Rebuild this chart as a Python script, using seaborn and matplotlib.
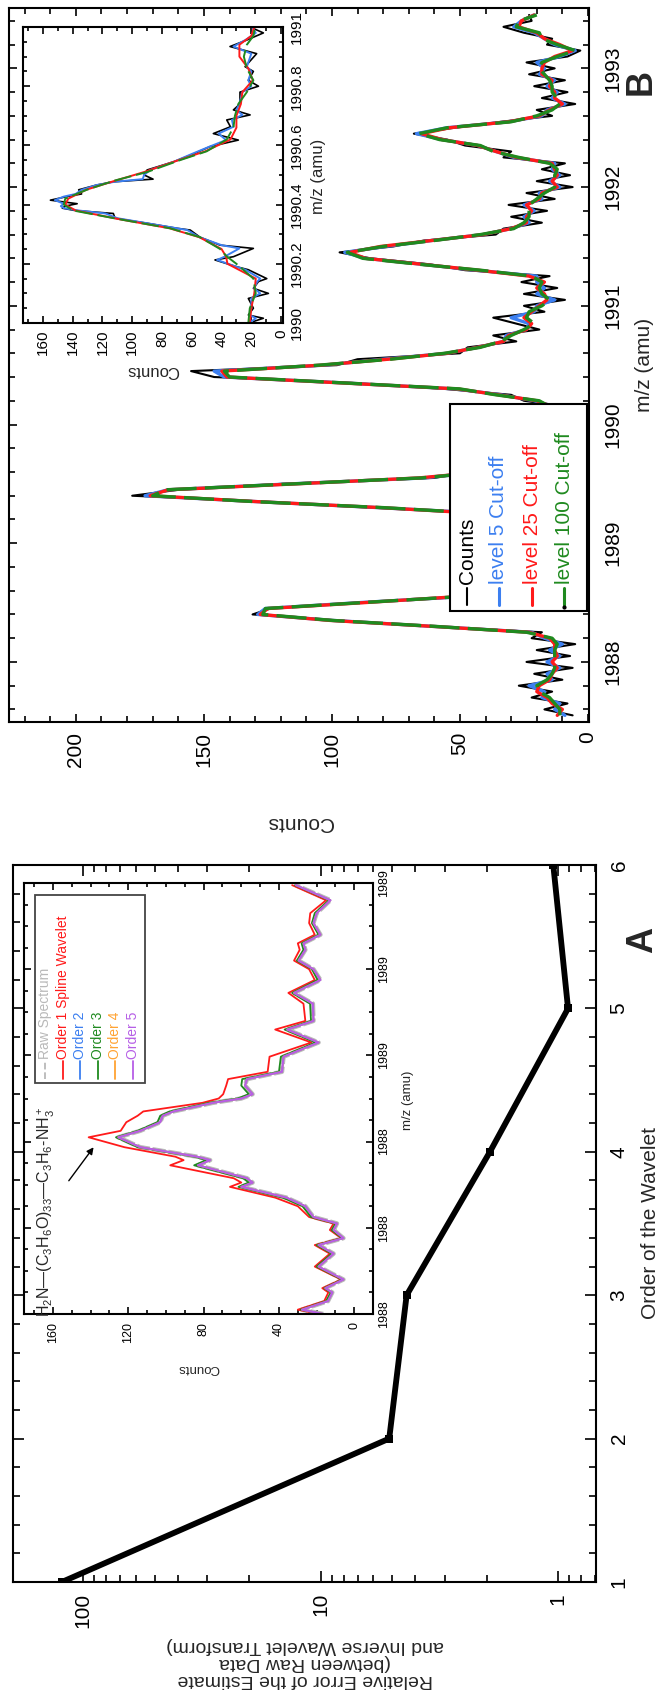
import matplotlib
matplotlib.use("Agg")
import matplotlib.pyplot as plt
import seaborn as sns
from matplotlib.ticker import MultipleLocator, LogLocator, NullFormatter, FixedLocator, FormatStrFormatter
from matplotlib.lines import Line2D
from matplotlib.patches import Rectangle

# ---------------- data ----------------
# Panel A: relative error vs wavelet order
wavelet_order = [1, 2, 3, 4, 5, 6]
relative_error = [123.0, 5.15, 4.35, 1.94, 0.91, 1.05]

# Panel A inset: spectrum around m/z 1988-1989
mz_a = [1988.000, 1988.010, 1988.030, 1988.050, 1988.060, 1988.080, 1988.110, 1988.140, 1988.160, 1988.176,
        1988.195, 1988.210, 1988.225, 1988.250, 1988.270, 1988.295, 1988.305, 1988.315, 1988.345, 1988.357,
        1988.365, 1988.387, 1988.410, 1988.425, 1988.445, 1988.460, 1988.470, 1988.490, 1988.500, 1988.510,
        1988.530, 1988.545, 1988.562, 1988.597, 1988.630, 1988.660, 1988.680, 1988.720, 1988.745, 1988.775,
        1988.800, 1988.820, 1988.845, 1988.860, 1988.880, 1988.907, 1988.930, 1988.960, 1988.995]
order5_counts = [16.5, 27.8, 14, 11.7, 15.4, 5.8, 19, 11, 19, 5.8, 11, 9.2, 21.7, 26, 36, 60, 54, 57, 83, 76.5,
                 83.5, 113.6, 125.3, 113.6, 103, 101.7, 96, 75, 60, 54, 58, 57, 38.4, 37.6, 19, 35.7, 21.7, 22, 32, 18,
                 21.7, 29.6, 26, 27, 18, 21.7, 20, 12.7, 31]
order1_counts = [19, 30, 16, 13.8, 17, 7, 21, 13, 21, 7, 13, 11, 24, 30, 42, 66, 60, 64, 97.7, 90.6,
                 95, 122, 141, 124, 121, 115, 112, 80.6, 72, 69.6, 68, 67, 46, 45, 22.8, 42, 26, 27, 35, 21,
                 24, 32, 29, 30, 21, 24, 23.4, 15, 33]
order3_counts = [17, 28.5, 15, 12.5, 16, 6.5, 20, 12, 20, 6.5, 12, 10, 23, 27.5, 38, 61.5, 56, 59, 85, 78.5,
                 85, 115, 126.5, 115, 104.5, 103, 98, 77, 62, 56, 60, 59.5, 40, 39, 20.5, 37, 23, 23.5, 33, 19.5,
                 22.5, 30.5, 27, 28, 19, 22.5, 21, 13.5, 31.5]
order2_counts = [16.5, 27.8, 14, 11.7, 15.4, 5.8, 19, 11, 19, 5.8, 11, 9.2, 21.7, 26, 36, 60, 54, 57, 83, 76.5,
                 83.5, 113.6, 125.3, 113.6, 103, 101.7, 96, 75, 60, 54, 58, 57, 38.4, 37.6, 19, 35.7, 21.7, 22, 32, 18,
                 21.7, 29.6, 26, 27, 18, 21.7, 20, 12.7, 31]
order4_counts = order2_counts
raw_counts_a = order2_counts

# Panel B: full spectrum
mz_b = [1987.55, 1987.60, 1987.65, 1987.70, 1987.75, 1987.80, 1987.85, 1987.90, 1987.95,
        1988.00, 1988.05, 1988.10, 1988.15, 1988.20, 1988.25, 1988.30, 1988.35, 1988.40, 1988.45,
        1988.50, 1988.55, 1988.60, 1988.65, 1988.70, 1988.75, 1988.80, 1988.85, 1988.90, 1988.95,
        1989.00, 1989.05, 1989.10, 1989.15, 1989.20, 1989.25, 1989.30, 1989.35, 1989.40, 1989.45,
        1989.50, 1989.55, 1989.60, 1989.65, 1989.70, 1989.75, 1989.80, 1989.85, 1989.90, 1989.95,
        1990.00, 1990.05, 1990.10, 1990.15, 1990.20, 1990.25, 1990.30, 1990.35, 1990.40, 1990.45,
        1990.50, 1990.55, 1990.60, 1990.65, 1990.70, 1990.75, 1990.80, 1990.85, 1990.90, 1990.95,
        1991.00, 1991.05, 1991.10, 1991.15, 1991.20, 1991.25, 1991.30, 1991.35, 1991.40, 1991.45,
        1991.50, 1991.55, 1991.60, 1991.65, 1991.70, 1991.75, 1991.80, 1991.85, 1991.90, 1991.95,
        1992.00, 1992.05, 1992.10, 1992.15, 1992.20, 1992.25, 1992.30, 1992.35, 1992.40, 1992.45,
        1992.50, 1992.55, 1992.60, 1992.65, 1992.70, 1992.75, 1992.80, 1992.85, 1992.90, 1992.95,
        1993.00, 1993.05, 1993.10, 1993.15, 1993.20, 1993.25, 1993.30, 1993.35, 1993.40, 1993.45]
counts_raw = [6, 17, 8, 22, 14, 27, 10, 21, 6,
              24, 7, 20, 5, 22, 18, 62, 98, 131, 124,
              90, 46, 40, 24, 31, 16, 33, 18, 30, 11,
              26, 13, 27, 8, 26, 35, 85, 126, 178, 160,
              120, 60, 46, 24, 36, 19, 31, 15, 29, 10,
              24, 11, 25, 8, 25, 30, 56, 92, 146, 155,
              98, 90, 50, 47, 28, 37, 19, 28, 37, 17,
              25, 9, 25, 12, 26, 15, 48, 62, 85, 97,
              76, 64, 36, 33, 18, 30, 16, 31, 13, 24,
              6, 20, 7, 18, 9, 33, 30, 48, 55, 68,
              52, 34, 14, 20, 5, 18, 8, 21, 9, 23,
              13, 24, 8, 3, 16, 14, 25, 33, 22, 23]
counts_lvl5 = [9, 13, 11, 18, 17, 23, 14, 16, 11,
               16, 11, 15, 10, 17, 22, 61, 100, 129, 126,
               89, 49, 37, 28, 26, 21, 27, 23, 24, 16,
               19, 18, 21, 13, 22, 38, 82, 129, 173, 164,
               116, 64, 42, 29, 31, 24, 26, 21, 22, 15,
               18, 16, 19, 13, 21, 34, 52, 95, 142, 146,
               103, 80, 55, 43, 33, 32, 24, 23, 30, 21,
               20, 13, 20, 17, 20, 20, 44, 65, 87, 95,
               79, 61, 41, 30, 23, 25, 21, 25, 18, 19,
               11, 15, 11, 14, 13, 29, 36, 43, 57, 67,
               55, 31, 18, 16, 9, 14, 12, 16, 13, 19,
               17, 20, 11, 5, 13, 17, 21, 29, 26, 21]
counts_lvl25 = [12, 10, 14, 16, 20, 19, 15, 14, 12,
                14, 12, 13, 13, 15, 23, 61, 101, 128, 125,
                87, 51, 35, 29, 25, 22, 26, 24, 21, 19,
                18, 19, 18, 16, 21, 41, 81, 129, 171, 164,
                114, 66, 41, 30, 28, 27, 25, 22, 19, 18,
                17, 17, 18, 14, 20, 35, 51, 96, 141, 143,
                104, 78, 55, 43, 33, 31, 24, 22, 25, 22,
                19, 16, 17, 20, 17, 23, 43, 65, 87, 93,
                81, 61, 41, 30, 24, 24, 22, 24, 19, 18,
                12, 14, 12, 13, 14, 28, 36, 43, 57, 65,
                54, 31, 19, 15, 10, 13, 13, 15, 14, 18,
                18, 17, 13, 6, 11, 17, 20, 27, 26, 21]
counts_lvl100 = [11, 11, 13, 15, 19, 20, 16, 14, 13,
                 13, 13, 13, 12, 14, 24, 60, 100, 127, 126,
                 88, 50, 36, 30, 24, 23, 25, 25, 22, 18,
                 17, 20, 19, 15, 20, 40, 80, 130, 170, 165,
                 115, 65, 40, 31, 29, 26, 24, 23, 20, 17,
                 16, 18, 17, 15, 19, 36, 50, 95, 140, 142,
                 105, 77, 56, 42, 34, 30, 25, 21, 24, 23,
                 18, 15, 18, 19, 18, 22, 42, 66, 88, 94,
                 80, 60, 42, 29, 25, 23, 23, 23, 20, 17,
                 13, 13, 13, 12, 15, 27, 37, 42, 58, 66,
                 55, 30, 20, 14, 11, 12, 14, 14, 15, 17,
                 19, 18, 12, 5, 12, 18, 19, 28, 27, 20]

# Panel B inset: zoom 1990-1991
mz_bz_raw = [1990.005, 1990.016, 1990.027, 1990.050, 1990.083, 1990.100, 1990.117, 1990.140, 1990.150, 1990.180,
             1990.190, 1990.213, 1990.224, 1990.252, 1990.263, 1990.290, 1990.314, 1990.320, 1990.337, 1990.354,
             1990.370, 1990.380, 1990.388, 1990.395, 1990.403, 1990.415, 1990.427, 1990.436, 1990.450, 1990.466,
             1990.477, 1990.486, 1990.500, 1990.517, 1990.545, 1990.571, 1990.596, 1990.618, 1990.640, 1990.663,
             1990.686, 1990.703, 1990.720, 1990.740, 1990.780, 1990.800, 1990.820, 1990.850, 1990.866, 1990.910,
             1990.934, 1990.956, 1990.980, 1990.995]
zoom_raw = [18.6, 11.9, 22, 18.6, 22, 8.5, 18.6, 15.2, 9.6, 22,
            29.8, 44.4, 32, 18.6, 41, 54.5, 61, 70, 90, 111.6,
            112.7, 138.5, 147, 145, 137, 155, 144, 134, 136, 124,
            112.7, 86, 92, 90, 72, 59, 47.7, 28.7, 45.5, 34,
            36.5, 20.8, 32, 27.6, 27.6, 15.2, 22, 18.6, 24.2, 16.4,
            34.3, 23, 11.9, 18.6]
zoom_lvl5 = [20, 17, 21, 20, 20, 14, 18, 16, 14, 24,
             30, 43, 38, 28, 40, 55, 63, 70, 90, 110,
             118, 136, 146, 148, 146, 152, 146, 138, 134, 124,
             112, 93, 92, 88, 72, 60, 48, 37, 42, 32,
             33, 26, 30, 28, 26, 20, 22, 20, 23, 20,
             32, 24, 17, 19]
mz_bz_smooth = [1990.00, 1990.05, 1990.10, 1990.15, 1990.20, 1990.225, 1990.25, 1990.29, 1990.32, 1990.35,
                1990.38, 1990.40, 1990.42, 1990.45, 1990.48, 1990.51, 1990.55, 1990.58, 1990.62, 1990.66,
                1990.70, 1990.74, 1990.78, 1990.82, 1990.86, 1990.90, 1990.94, 1990.97, 1991.00]
zoom_lvl25 = [21, 20, 18, 17, 36, 37, 40, 55, 75, 108,
              138, 145, 143, 131, 112, 92, 69, 51, 34, 30,
              30, 27, 26, 19, 22, 28, 28, 20, 18]
zoom_lvl100 = [22, 21, 17, 18.6, 30, 36.5, 41, 54.5, 74.6, 108,
               139.6, 146, 145, 130.6, 112.7, 90, 68, 50, 36.5, 32,
               31, 28.7, 23, 18.6, 23, 25, 23, 18.6, 17.5]

# ---------------- style ----------------
sns.set_theme(style="ticks")
plt.rcParams["font.family"] = ["Liberation Sans", "DejaVu Sans"]
plt.rcParams["mathtext.fontset"] = "custom"
plt.rcParams["mathtext.rm"] = "Liberation Sans"
plt.rcParams["mathtext.it"] = "Liberation Sans:italic"
plt.rcParams["mathtext.bf"] = "Liberation Sans:bold"
plt.rcParams["axes.linewidth"] = 1.5

W, H = 663, 1701
fig = plt.figure(figsize=(W / 100, H / 100), dpi=100)
fig.patch.set_facecolor("white")


def fx(x):
    return x / W


def fy(y):
    return 1 - y / H


def rect(x0, y0, x1, y1):
    return [fx(x0), fy(y1), (x1 - x0) / W, (y1 - y0) / H]


def style(ax, size, padx, pady, maj, mnr):
    ax.set_facecolor("white")
    for s in ax.spines.values():
        s.set_color("black")
        s.set_linewidth(1.5)
        s.set_visible(True)
    ax.grid(False)
    ax.tick_params(which="both", direction="in", top=True, bottom=True, left=True, right=True,
                   labelleft=False, labelright=True, labelbottom=True, labeltop=False,
                   color="black", width=1.2, labelcolor="black")
    ax.tick_params(which="major", length=maj)
    ax.tick_params(which="minor", length=mnr)
    ax.tick_params(axis="x", labelrotation=90, pad=padx, labelsize=size)
    ax.tick_params(axis="y", labelrotation=90, pad=pady, labelsize=size)
    ax.set_xlabel("")
    ax.set_ylabel("")


BLUE = "#3c7ff0"
RED = "#ff1a1a"
GREEN = "#1f8a1f"
ORANGE = "#ffa333"
PURPLE = "#b65ee6"
GREY = "#b9b9b9"

# ---------------- Panel B ----------------
axB = fig.add_axes(rect(9.3, 8.3, 589, 722))
sns.lineplot(x=counts_raw, y=mz_b, sort=False, estimator=None, color="black", lw=1.5, ax=axB)
sns.lineplot(x=counts_lvl5, y=mz_b, sort=False, estimator=None, color=BLUE, lw=2.4, ax=axB)
sns.lineplot(x=counts_lvl25, y=mz_b, sort=False, estimator=None, color=RED, lw=2.4, ax=axB)
sns.lineplot(x=counts_lvl100, y=mz_b, sort=False, estimator=None, color=GREEN, lw=2.4,
             linestyle=(0, (9, 2.5)), ax=axB)
axB.set_xlim(226, -0.4)
axB.set_ylim(1987.494, 1993.506)
axB.xaxis.set_major_locator(MultipleLocator(50))
axB.xaxis.set_minor_locator(MultipleLocator(10))
axB.yaxis.set_major_locator(MultipleLocator(1))
axB.yaxis.set_minor_locator(MultipleLocator(0.2))
axB.yaxis.set_major_formatter(FormatStrFormatter("%d"))
style(axB, 15, 7, 10, 6, 4)

# legend B (drawn rotated like the rest of the figure)
fig.add_artist(Rectangle((fx(450), fy(611)), (587 - 450) / W, (611 - 404) / H, transform=fig.transFigure,
                         facecolor="white", edgecolor="black", lw=1.5, zorder=5))
legB = [("Counts", "black", 467), ("level 5 Cut-off", BLUE, 499),
        ("level 25 Cut-off", RED, 532), ("level 100 Cut-off", GREEN, 564)]
for lab, col, xx in legB:
    fig.add_artist(Line2D([fx(xx), fx(xx)], [fy(605), fy(588)], transform=fig.transFigure,
                          color=col, lw=2.2 if col != "black" else 1.5, zorder=6))
    fig.text(fx(xx), fy(584), lab, rotation=90, ha="center", va="bottom", fontsize=15, color=col, zorder=6)
fig.add_artist(Line2D([fx(564)], [fy(607)], transform=fig.transFigure, marker="o", ms=2,
                      color="black", zorder=6))

# inset B
axBi = fig.add_axes(rect(22.7, 27, 283, 323))
sns.lineplot(x=zoom_raw, y=mz_bz_raw, sort=False, estimator=None, color="black", lw=1.2, ax=axBi)
sns.lineplot(x=zoom_lvl5, y=mz_bz_raw, sort=False, estimator=None, color=BLUE, lw=1.4, ax=axBi)
sns.lineplot(x=zoom_lvl25, y=mz_bz_smooth, sort=False, estimator=None, color=RED, lw=1.4, ax=axBi)
sns.lineplot(x=zoom_lvl100, y=mz_bz_smooth, sort=False, estimator=None, color=GREEN, lw=1.4,
             linestyle=(0, (9, 2.5)), ax=axBi)
axBi.set_xlim(173.6, -1.3)
axBi.set_ylim(1990, 1991)
axBi.xaxis.set_major_locator(MultipleLocator(20))
axBi.xaxis.set_minor_locator(MultipleLocator(10))
axBi.yaxis.set_major_locator(FixedLocator([1990, 1990.2, 1990.4, 1990.6, 1990.8, 1991]))
axBi.yaxis.set_minor_locator(MultipleLocator(0.05))
axBi.set_yticklabels(["1990", "1990.2", "1990.4", "1990.6", "1990.8", "1991"])
style(axBi, 11, 5, 5, 5, 3)

fig.text(fx(318), fy(176), "m/z (amu)", rotation=90, ha="center", va="center", fontsize=12)
fig.text(fx(153), fy(370), "Counts", rotation=180, ha="center", va="center", fontsize=12)

fig.text(fx(300), fy(822), "Counts", rotation=180, ha="center", va="center", fontsize=15)
fig.text(fx(645), fy(365), "m/z (amu)", rotation=90, ha="center", va="center", fontsize=15)
fig.text(fx(641), fy(82), "B", rotation=90, ha="center", va="center", fontsize=26, fontweight="bold")

# ---------------- Panel A ----------------
axA = fig.add_axes(rect(12.7, 865, 595.7, 1582))
sns.lineplot(x=relative_error, y=wavelet_order, sort=False, estimator=None, color="black", lw=4.2,
             marker="s", markersize=6, markeredgewidth=0, ax=axA)
axA.set_xscale("log")
axA.set_xlim(198, 0.696)
axA.set_ylim(1, 6)
axA.xaxis.set_major_locator(FixedLocator([1, 10, 100]))
axA.set_xticklabels(["1", "10", "100"])
axA.xaxis.set_minor_locator(LogLocator(base=10, subs=(2, 3, 4, 5, 6, 7, 8, 9)))
axA.xaxis.set_minor_formatter(NullFormatter())
axA.yaxis.set_major_locator(MultipleLocator(1))
axA.yaxis.set_minor_locator(MultipleLocator(0.2))
style(axA, 15, 8, 10, 8, 5)

fig.text(fx(650), fy(1223), "Order of the Wavelet", rotation=90, ha="center", va="center", fontsize=15)
fig.text(fx(305), fy(1662), "Relative Error of the Estimate\n(between Raw Data\nand Inverse Wavelet Transform)",
         rotation=180, ha="center", va="center", fontsize=14, multialignment="center", linespacing=1.0)
fig.text(fx(643), fy(940), "A", rotation=90, ha="center", va="center", fontsize=26, fontweight="bold")

# inset A
axAi = fig.add_axes(rect(24, 883, 373, 1314))
sns.lineplot(x=raw_counts_a, y=mz_a, sort=False, estimator=None, color=GREY, lw=3.2,
             linestyle=(0, (3, 0.6)), ax=axAi)
sns.lineplot(x=order1_counts, y=mz_a, sort=False, estimator=None, color=RED, lw=1.3, ax=axAi)
sns.lineplot(x=order2_counts, y=mz_a, sort=False, estimator=None, color=BLUE, lw=1.3, ax=axAi)
sns.lineplot(x=order3_counts, y=mz_a, sort=False, estimator=None, color=GREEN, lw=1.3, ax=axAi)
sns.lineplot(x=order4_counts, y=mz_a, sort=False, estimator=None, color=ORANGE, lw=1.3, ax=axAi)
sns.lineplot(x=order5_counts, y=mz_a, sort=False, estimator=None, color=PURPLE, lw=1.5, ax=axAi)
axAi.set_xlim(175.3, -9.9)
axAi.set_ylim(1988.0, 1989.0)
axAi.xaxis.set_major_locator(MultipleLocator(40))
axAi.xaxis.set_minor_locator(MultipleLocator(10))
axAi.yaxis.set_major_locator(FixedLocator([1988.0, 1988.2, 1988.4, 1988.6, 1988.8, 1989.0]))
axAi.yaxis.set_major_formatter(FormatStrFormatter("%.0f"))
axAi.yaxis.set_minor_locator(MultipleLocator(0.05))
style(axAi, 9, 6, 4, 5, 3)

fig.text(fx(408), fy(1100), "m/z (amu)", rotation=90, ha="center", va="center", fontsize=9.5)
fig.text(fx(198), fy(1368), "Counts", rotation=180, ha="center", va="center", fontsize=9.5)

axAi.annotate("", xy=(137.5, 1988.392), xytext=(152.4, 1988.304),
              arrowprops=dict(arrowstyle="-|>", color="black", lw=1.0, mutation_scale=10))
fig.text(fx(46), fy(1212), r"H$_2$N—(C$_3$H$_6$O)$_{33}$—C$_3$H$_6$-NH$_3^+$", rotation=90,
         ha="center", va="center", fontsize=11.5)

# legend A
fig.add_artist(Rectangle((fx(35), fy(1083)), (145 - 35) / W, (1083 - 895) / H, transform=fig.transFigure,
                         facecolor="white", edgecolor="#444444", lw=1.3, zorder=5))
legA = [("Raw Spectrum", GREY, 45, "--"), ("Order 1 Spline Wavelet", RED, 63, "-"), ("Order 2", BLUE, 80, "-"),
        ("Order 3", GREEN, 98, "-"), ("Order 4", ORANGE, 115, "-"), ("Order 5", PURPLE, 133, "-")]
for lab, col, xx, ls in legA:
    fig.add_artist(Line2D([fx(xx), fx(xx)], [fy(1079), fy(1061)], transform=fig.transFigure,
                          color=col, lw=1.3, ls=ls, zorder=6))
    fig.text(fx(xx), fy(1059), lab, rotation=90, ha="center", va="bottom", fontsize=10, color=col, zorder=6)

for ax in (axA, axAi, axB, axBi):
    plt.setp(ax.get_yticklabels(), va="center")

fig.savefig("out.png", dpi=100, facecolor="white")
